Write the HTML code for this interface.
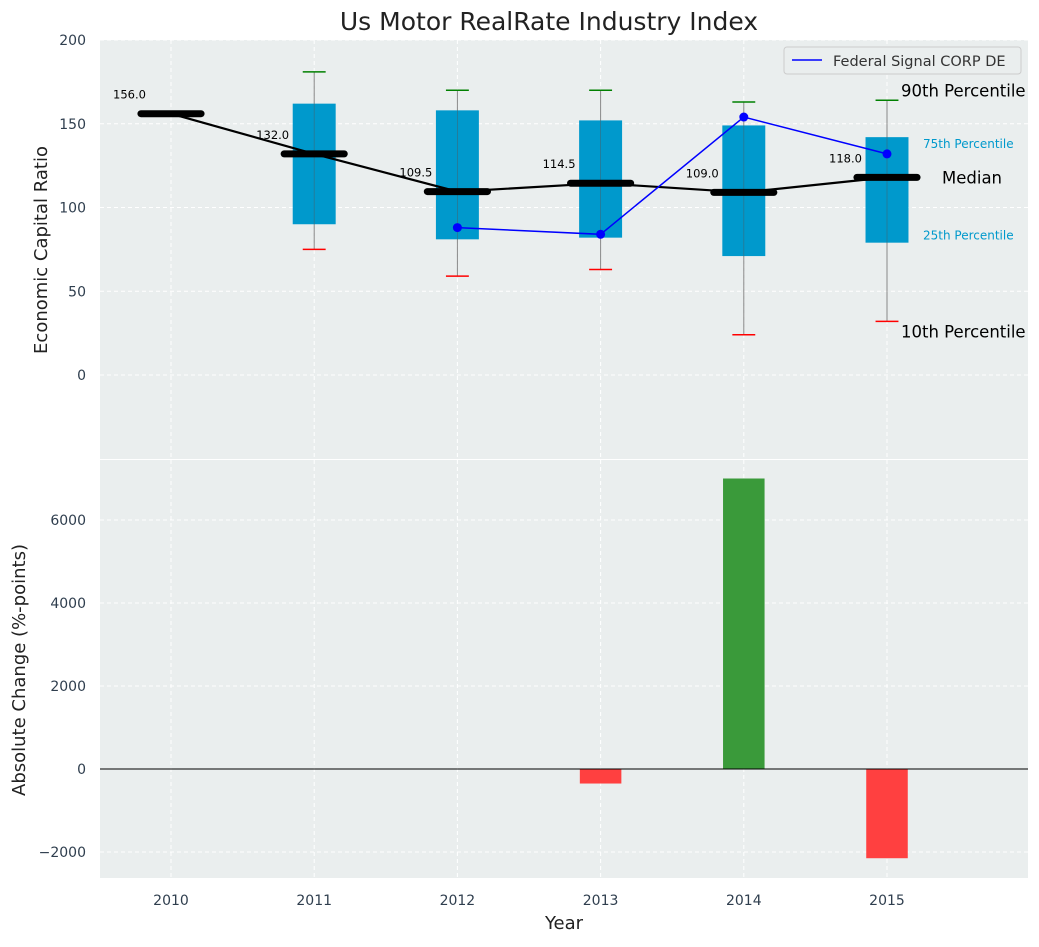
<!DOCTYPE html>
<html><head><meta charset="utf-8"><style>
body{margin:0;background:#fff;}
svg{font-family:"DejaVu Sans","Liberation Sans",sans-serif;}
</style></head><body>
<svg id="chart" width="1039" height="942" viewBox="0 0 1039 942" xmlns="http://www.w3.org/2000/svg"></svg>
<script>
const years=[2010,2011,2012,2013,2014,2015];
const medians=[156.0,132.0,109.5,114.5,109.0,118.0];
const q1=[null,90,81,82,71,79];
const q3=[null,162,158,152,149,142];
const p10=[null,75,59,63,24,32];
const p90=[null,181,170,170,163,164];
const signalYears=[2012,2013,2014,2015];
const signalValues=[88,84,154,132];
const changeYears=[2013,2014,2015];
const changeValues=[-350,7000,-2150];
const topTicks=[0,50,100,150,200];
const botTicks=[-2000,0,2000,4000,6000];

const NS="http://www.w3.org/2000/svg";
const svg=document.getElementById('chart');
function el(t,a,parent){const e=document.createElementNS(NS,t);for(const k in a)e.setAttribute(k,a[k]);(parent||svg).appendChild(e);return e;}
function txt(s,a,parent){const e=el('text',a,parent);e.textContent=s;return e;}
const L=100,R=1028;
const x=v=>171+(v-2010)*143.2;
const T1=40,B1=459;
const y1=v=>375-v*1.675;
const T2=460,B2=878;
const y2=v=>769-v*0.0415;
const tickCol='#2f3e4e';

let bg=el('rect',{x:L,y:T1,width:R-L,height:B1-T1,fill:'#eaeeee'});

let bg2=el('rect',{x:L,y:T2,width:R-L,height:B2-T2,fill:'#eaeeee'});


years.forEach(yr=>{
 el('line',{x1:x(yr),x2:x(yr),y1:T1,y2:B1,stroke:'#fff','stroke-dasharray':'4,3','stroke-width':1});
 el('line',{x1:x(yr),x2:x(yr),y1:T2,y2:B2,stroke:'#fff','stroke-dasharray':'4,3','stroke-width':1});
 let t=txt(String(yr),{x:x(yr),y:905,'text-anchor':'middle','font-size':14,fill:tickCol});
 
});
topTicks.forEach(v=>{
 el('line',{x1:L,x2:R,y1:y1(v),y2:y1(v),stroke:'#fff','stroke-dasharray':'4,3'});
 let t=txt(String(v),{x:86,y:y1(v)+5,'text-anchor':'end','font-size':14,fill:tickCol});
 
});
botTicks.forEach(v=>{
 el('line',{x1:L,x2:R,y1:y2(v),y2:y2(v),stroke:'#fff','stroke-dasharray':'4,3'});
 let t=txt(v<0?'\u2212'+Math.abs(v):String(v),{x:86,y:y2(v)+5,'text-anchor':'end','font-size':14,fill:tickCol});
 
});

const bw=0.3*143.2, cw=0.16*143.2;
years.forEach((yr,i)=>{
 if(q1[i]===null)return;
 const cx=x(yr);
 el('line',{x1:cx,x2:cx,y1:y1(p90[i]),y2:y1(p10[i]),stroke:'#888','stroke-width':1});
 let b=el('rect',{x:cx-bw/2,y:y1(q3[i]),width:bw,height:y1(q1[i])-y1(q3[i]),fill:'#0099cc'});
 
 el('line',{x1:cx,x2:cx,y1:y1(q3[i]),y2:y1(q1[i]),stroke:'#555','stroke-width':0.8,opacity:0.5});
 let c1=el('line',{x1:cx-cw/2,x2:cx+cw/2,y1:y1(p90[i]),y2:y1(p90[i]),stroke:'green','stroke-width':1.5});
 
 let c2=el('line',{x1:cx-cw/2,x2:cx+cw/2,y1:y1(p10[i]),y2:y1(p10[i]),stroke:'red','stroke-width':1.5});
 
});
let mp=el('polyline',{points:years.map((yr,i)=>x(yr)+','+y1(medians[i])).join(' '),fill:'none',stroke:'#000','stroke-width':2.2});

const mw=0.42*143.2;
years.forEach((yr,i)=>{
 let m=el('line',{x1:x(yr)-mw/2,x2:x(yr)+mw/2,y1:y1(medians[i]),y2:y1(medians[i]),stroke:'#000','stroke-width':7,'stroke-linecap':'round'});
 
 let t=txt(medians[i].toFixed(1),{x:x(yr)-0.29*143.2,y:y1(medians[i])-15,'text-anchor':'middle','font-size':11.5,fill:'#000'});
 
});
let sl=el('polyline',{points:signalYears.map((yr,i)=>x(yr)+','+y1(signalValues[i])).join(' '),fill:'none',stroke:'blue','stroke-width':1.5});

signalYears.forEach((yr,i)=>{
 let c=el('circle',{cx:x(yr),cy:y1(signalValues[i]),r:4.5,fill:'blue'});
 
});
const ax=x(2015);
[['90th Percentile',y1(p90[5])-4,16.5,'#000',ax+14],['75th Percentile',y1(q3[5])+11,12,'#0099cc',ax+36],['Median',y1(medians[5])+6,16.5,'#000',ax+55],['25th Percentile',y1(q1[5])-3,12,'#0099cc',ax+36],['10th Percentile',y1(p10[5])+16,16.5,'#000',ax+14]].forEach(a=>{
 let t=txt(a[0],{x:a[4],y:a[1],'font-size':a[2],fill:a[3]});
 
});
let lg=el('g',{});
el('rect',{x:784,y:47,width:237,height:27,rx:3,fill:'#eaeeee',stroke:'#ccc'},lg);
el('line',{x1:792,x2:822,y1:60,y2:60,stroke:'blue','stroke-width':1.5},lg);
txt('Federal Signal CORP DE',{x:833,y:66,'font-size':14.5,fill:'#333'},lg);

const barW=0.29*143.2;
changeYears.forEach((yr,i)=>{
 const v=changeValues[i];
 let b=el('rect',{x:x(yr)-barW/2,y:Math.min(y2(v),y2(0)),width:barW,height:Math.abs(y2(v)-y2(0)),fill:v>=0?'#3a9a3a':'#ff4040'});
 
});
el('line',{x1:L,x2:R,y1:y2(0),y2:y2(0),stroke:'#000','stroke-width':1});

let tt=txt('Us Motor RealRate Industry Index',{x:549,y:30,'text-anchor':'middle','font-size':25,fill:'#222'});

let yl=txt('Economic Capital Ratio',{x:0,y:0,transform:'translate(47,250) rotate(-90)','text-anchor':'middle','font-size':18,fill:'#222'});

let yl2=txt('Absolute Change (%-points)',{x:0,y:0,transform:'translate(25,670) rotate(-90)','text-anchor':'middle','font-size':18,fill:'#222'});

let xl=txt('Year',{x:564,y:929,'text-anchor':'middle','font-size':18,fill:'#222'});

</script>
</body></html>
